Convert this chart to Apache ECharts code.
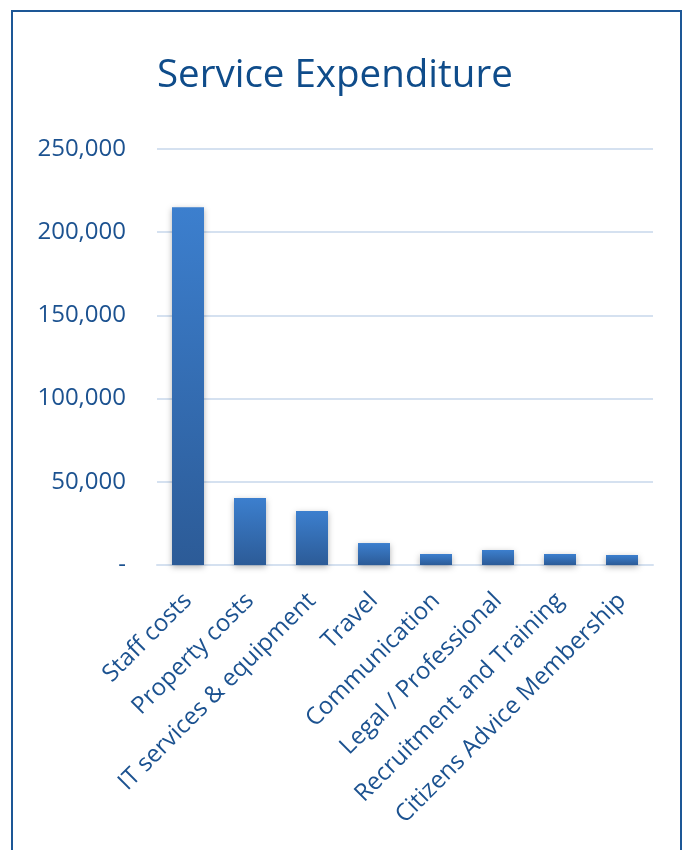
<!DOCTYPE html>
<html>
<head>
<meta charset="utf-8">
<script src="https://cdn.jsdelivr.net/npm/echarts@6/dist/echarts.min.js"></script>
<style>
  html, body { margin: 0; padding: 0; background: #fff; }
  #main { width: 686px; height: 850px; }
</style>
</head>
<body>
<div id="main"></div>
<script>
// 数据
const categories = [
  'Staff costs', 'Property costs', 'IT services & equipment', 'Travel',
  'Communication', 'Legal / Professional', 'Recruitment and Training',
  'Citizens Advice Membership'
];
const expenditure = [215000, 40300, 32400, 13200, 6600, 9000, 6600, 6000];
const yTicks = [0, 50000, 100000, 150000, 200000, 250000];

const textColor = '#1c5290';
const font = "'Open Sans', 'DejaVu Sans', sans-serif";

function fmt(v) {
  if (v === 0) return '-';
  return v.toString().replace(/\B(?=(\d{3})+(?!\d))/g, ',');
}

const chart = echarts.init(document.getElementById('main'));
const option = {
  animation: false,
  textStyle: { fontFamily: font },
  title: {
    text: 'Service Expenditure',
    left: 152,
    top: 52,
    textStyle: { color: '#0f4c8a', fontSize: 38.5, fontWeight: 'normal', fontFamily: font }
  },
  graphic: [{
    type: 'rect',
    shape: { x: 12, y: 11, width: 669, height: 860 },
    style: { fill: 'none', stroke: '#1d5796', lineWidth: 2 },
    silent: true
  }],
  grid: { left: 157, right: 33, top: 149, bottom: 285, containLabel: false },
  xAxis: {
    type: 'category',
    data: categories,
    axisLine: { show: true, lineStyle: { color: '#d5e1f0', width: 2 } },
    axisTick: { show: false },
    axisLabel: {
      rotate: 45, interval: 0, margin: 32,
      color: textColor, fontSize: 24, fontFamily: font
    }
  },
  yAxis: {
    type: 'value',
    min: yTicks[0],
    max: yTicks[yTicks.length - 1],
    interval: 50000,
    axisLine: { show: false },
    axisTick: { show: false },
    splitLine: { lineStyle: { color: '#d5e1f0', width: 2 } },
    axisLabel: {
      margin: 31,
      color: textColor, fontSize: 24, fontFamily: font,
      formatter: fmt
    }
  },
  series: [{
    type: 'bar',
    data: expenditure,
    barWidth: 32,
    itemStyle: {
      color: new echarts.graphic.LinearGradient(0, 0, 0, 1, [
        { offset: 0, color: '#3c7fce' },
        { offset: 1, color: '#2c5b97' }
      ]),
      shadowColor: 'rgba(0,0,0,0.3)',
      shadowBlur: 6,
      shadowOffsetY: 2
    }
  }]
};
chart.setOption(option);
</script>
</body>
</html>
